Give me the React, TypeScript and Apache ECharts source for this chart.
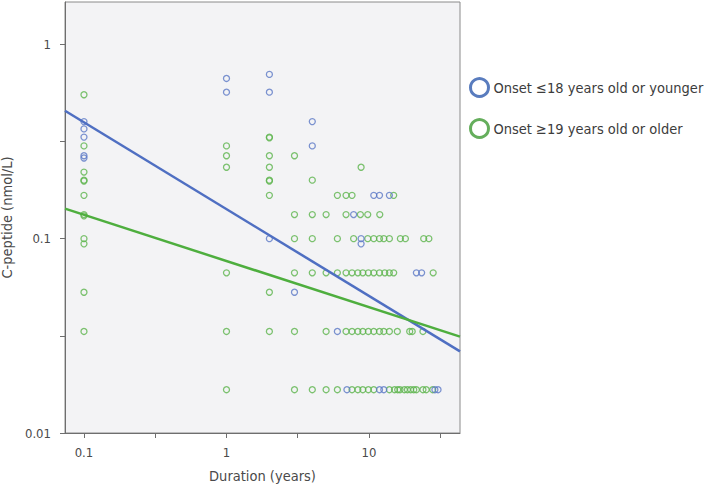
import React, { useEffect, useRef } from "react";
import * as echarts from "echarts";

// ---- data ----
const youngerName = "Onset ≤18 years old or younger";
const olderName = "Onset ≥19 years old or older";

// [duration (years), C-peptide (nmol/L)]
const youngerPoints: [number, number][] = [
  [0.1, 0.4], [0.1, 0.367], [0.1, 0.333], [0.1, 0.267], [0.1, 0.26],
  [1, 0.667], [1, 0.567],
  [2, 0.7], [2, 0.567], [2, 0.1],
  [3, 0.053],
  [4, 0.4], [4, 0.3],
  [6, 0.0333],
  [7, 0.0167],
  [7.8, 0.133],
  [8.8, 0.1], [8.8, 0.094],
  [10.8, 0.167], [11.85, 0.167], [13.9, 0.167],
  [11.85, 0.0167], [12.7, 0.0167],
  [21.5, 0.0667], [23.4, 0.0667],
  [29, 0.0167], [30.5, 0.0167],
];

const olderPoints: [number, number][] = [
  [0.1, 0.55], [0.1, 0.3], [0.1, 0.22], [0.1, 0.2], [0.1, 0.198], [0.1, 0.167],
  [0.1, 0.133], [0.1, 0.131], [0.1, 0.1], [0.1, 0.094], [0.1, 0.053], [0.1, 0.0333],
  [1, 0.3], [1, 0.267], [1, 0.233], [1, 0.0667], [1, 0.0333], [1, 0.0167],
  [2, 0.333], [2, 0.33], [2, 0.267], [2, 0.233], [2, 0.2], [2, 0.198], [2, 0.167],
  [2, 0.053], [2, 0.0333],
  [3, 0.267], [3, 0.133], [3, 0.1], [3, 0.0667], [3, 0.0333], [3, 0.0167],
  [4, 0.2], [4, 0.133], [4, 0.1], [4, 0.0667], [4, 0.0167],
  [5, 0.133], [5, 0.0667], [5, 0.0333], [5, 0.0167],
  [6, 0.167], [6, 0.1], [6, 0.0667], [6, 0.0167],
  [6.9, 0.167], [7.6, 0.167], [14.9, 0.167],
  [8.8, 0.233],
  [6.9, 0.133], [8.7, 0.133], [9.8, 0.133], [11.9, 0.133],
  [7.8, 0.1], [9.8, 0.1], [10.8, 0.1], [11.85, 0.1], [12.7, 0.1], [13.9, 0.1],
  [16.6, 0.1], [18, 0.1], [24.2, 0.1], [26.3, 0.1],
  [6.9, 0.0667], [7.6, 0.0667], [8.35, 0.0667], [9.05, 0.0667], [9.9, 0.0667],
  [10.8, 0.0667], [11.85, 0.0667], [12.9, 0.0667], [13.9, 0.0667], [14.9, 0.0667],
  [28.2, 0.0667],
  [6.9, 0.0333], [7.6, 0.0333], [8.35, 0.0333], [9.05, 0.0333], [9.9, 0.0333],
  [10.8, 0.0333], [11.85, 0.0333], [12.7, 0.0333], [13.9, 0.0333], [15.8, 0.0333],
  [19.3, 0.0333], [20.1, 0.0333], [23.9, 0.0333],
  [7.6, 0.0167], [8.35, 0.0167], [9.05, 0.0167], [9.9, 0.0167], [10.8, 0.0167],
  [13.9, 0.0167], [15.1, 0.0167], [15.9, 0.0167], [16.5, 0.0167], [17.7, 0.0167],
  [18.6, 0.0167], [19.6, 0.0167], [20.6, 0.0167], [21.5, 0.0167], [23.9, 0.0167],
  [25.2, 0.0167], [28, 0.0167],
];

// fitted regression lines (end points at the plot edges)
const youngerFit: [number, number][] = [[0.0736, 0.455], [43.5, 0.0263]];
const olderFit: [number, number][] = [[0.0736, 0.1426], [43.5, 0.0313]];

const xTickValues = [0.1, 0.316, 1, 3.16, 10, 31.6];
const xLabelValues = [0.1, 1, 10];
const yTickValues = [0.01, 0.0316, 0.1, 0.316, 1];
const yLabelValues = [0.01, 0.1, 1];

const xRange = [0.0736, 43.5];
const yRange = [0.01, 1.65];

const FONT = "'DejaVu Sans Condensed', 'Open Sans', sans-serif";
const BLUE = "#5b78c6";
const GREEN = "#5cb44c";
const BLUE_LINE = "#4f6fc2";
const GREEN_LINE = "#4eae3e";
const TEXT = "#4a4a4a";

function fmt(v: number): string {
  const e = Math.round(Math.log10(v));
  return e >= 0 ? String(Math.pow(10, e)) : (1 / Math.pow(10, -e)).toFixed(-e);
}

export default function App() {
  const ref = useRef<HTMLDivElement>(null);
  useEffect(() => {
    if (!ref.current) return;
    const chart = echarts.init(ref.current, undefined, { renderer: "svg" });
    chart.setOption({
      animation: false,
      backgroundColor: "#ffffff",
      textStyle: { fontFamily: FONT },
      grid: {
        left: 65,
        right: 249,
        top: 2,
        bottom: 57,
        show: true,
        backgroundColor: "#f3f3f5",
        borderColor: "#8a8a8a",
        borderWidth: 1,
        containLabel: false,
        outerBoundsMode: "none",
      },
      legend: {
        orient: "vertical",
        left: 464,
        top: 72,
        itemWidth: 18,
        itemHeight: 18,
        itemGap: 20,
        icon: "circle",
        textStyle: { fontFamily: FONT, fontSize: 14.5, color: "#3c3c3c" },
        data: [
          { name: youngerName, itemStyle: { color: "transparent", borderColor: "#2f5bae", borderWidth: 3 } },
          { name: olderName, itemStyle: { color: "transparent", borderColor: "#3f9a33", borderWidth: 3 } },
        ],
      },
      xAxis: {
        type: "log",
        logBase: 10,
        min: xRange[0],
        max: xRange[1],
        name: "Duration (years)",
        nameLocation: "middle",
        nameGap: 35,
        nameTextStyle: { fontFamily: FONT, fontSize: 14.5, color: TEXT },
        axisLine: { show: true, onZero: false, lineStyle: { color: "#6e6e6e", width: 1 } },
        axisTick: { show: true, length: 5, customValues: xTickValues, lineStyle: { color: "#6e6e6e" } },
        axisLabel: {
          customValues: xLabelValues,
          formatter: (v: number) => fmt(v),
          margin: 13,
          fontFamily: FONT,
          fontSize: 13,
          color: TEXT,
        },
        splitLine: { show: false },
        minorTick: { show: false },
      },
      yAxis: {
        type: "log",
        logBase: 10,
        min: yRange[0],
        max: yRange[1],
        name: "C-peptide (nmol/L)",
        nameLocation: "middle",
        nameGap: 44,
        nameTextStyle: { fontFamily: FONT, fontSize: 14.5, color: TEXT },
        axisLine: { show: true, onZero: false, lineStyle: { color: "#6e6e6e", width: 1 } },
        axisTick: { show: true, length: 5, customValues: yTickValues, lineStyle: { color: "#6e6e6e" } },
        axisLabel: {
          customValues: yLabelValues,
          formatter: (v: number) => fmt(v),
          margin: 14,
          fontFamily: FONT,
          fontSize: 13,
          color: TEXT,
        },
        splitLine: { show: false },
      },
      series: [
        {
          name: youngerName,
          type: "scatter",
          data: youngerPoints,
          symbol: "circle",
          symbolSize: 6,
          itemStyle: { color: "transparent", borderColor: BLUE, borderWidth: 1.3 },
          z: 3,
        },
        {
          name: olderName,
          type: "scatter",
          data: olderPoints,
          symbol: "circle",
          symbolSize: 6,
          itemStyle: { color: "transparent", borderColor: GREEN, borderWidth: 1.3 },
          z: 2,
        },
        {
          name: "youngerFit",
          type: "line",
          data: youngerFit,
          symbol: "none",
          lineStyle: { color: BLUE_LINE, width: 2.5 },
          z: 4,
        },
        {
          name: "olderFit",
          type: "line",
          data: olderFit,
          symbol: "none",
          lineStyle: { color: GREEN_LINE, width: 2.5 },
          z: 4,
        },
      ],
    });
    return () => chart.dispose();
  }, []);
  return (
    <div
      ref={ref}
      style={{ position: "fixed", left: 0, top: 0, width: 709, height: 490, background: "#fff" }}
    />
  );
}
